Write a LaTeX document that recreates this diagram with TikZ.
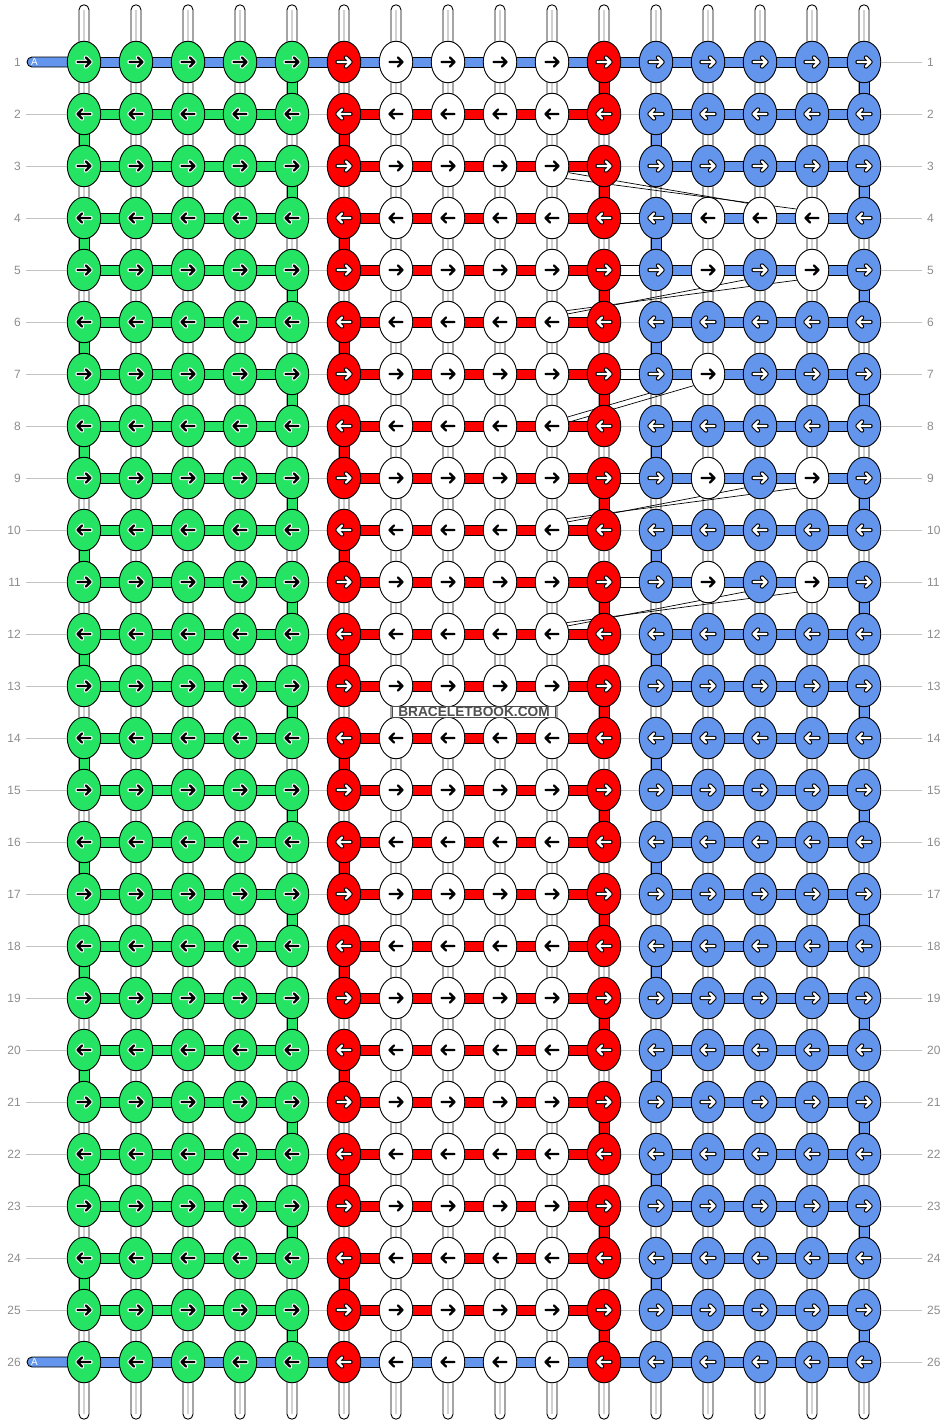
\documentclass[tikz,border=0pt]{standalone}
\usepackage{fontspec}
\setmainfont{Liberation Sans}
\usetikzlibrary{shapes, calc}

\definecolor{bbgreen}{RGB}{38,228,99}
\definecolor{bbred}{RGB}{255,0,0}
\definecolor{bbblue}{RGB}{100,149,237}
\definecolor{bbgrey}{RGB}{140,140,140}
\definecolor{bbline}{RGB}{195,195,195}
\definecolor{bbmark}{RGB}{80,80,80}

\pgfdeclarelayer{background}
\pgfsetlayers{background,main}

% colour of knot #1-#2 (row-column), and of its arrow
\makeatletter
\newcommand\knotcolour[2]{%
  \def\kfill{bbblue}\def\kin{white}\def\kout{black}%
  \ifnum#2<12 \def\kfill{white}\def\kin{black}\def\kout{white}\fi
  \ifnum#2=11 \def\kfill{bbred}\def\kin{white}\def\kout{black}\fi
  \ifnum#2=6 \def\kfill{bbred}\def\kin{white}\def\kout{black}\fi
  \ifnum#2<6 \def\kfill{bbgreen}\def\kin{black}\def\kout{white}\fi
  \edef\kkey{,#1-#2,}%
  \expandafter\in@\expandafter{\kkey}{,4-13,4-14,4-15,5-13,5-15,7-13,9-13,9-15,11-13,11-15,}%
  \ifin@\def\kfill{white}\def\kin{black}\def\kout{white}\fi}
\makeatother

\begin{document}
\begin{tikzpicture}[x=1pt, y=-1pt,
    knot/.style={ellipse, draw, line width=0.9pt, minimum width=33.5pt, minimum height=41.5pt, inner sep=0pt},
    warp/.style={draw, fill=white, line width=0.9pt, rounded corners=5pt},
    bar/.style={draw, line width=0.9pt},
    thread/.style={gray!35, line width=1.2pt},
    guide/.style={bbline, line width=0.8pt},
    hidden/.style={black, line width=0.7pt},
    arrowout/.style={line width=4.4pt, line cap=round, line join=round},
    arrowin/.style={line width=2.4pt, line cap=round, line join=round},
    rowlabel/.style={bbgrey, font=\fontsize{12}{12}\selectfont, inner sep=0pt}]

    \useasboundingbox (0,0) rectangle (948,1424);

    % Knots, arrows right on odd rows and left on even rows
    \foreach \r in {1,...,26}
    \foreach \c in {1,...,16} {
        \knotcolour{\r}{\c}
        \ifodd\r\relax \def\dir{1}\else \def\dir{-1}\fi
        \node[knot, fill=\kfill] (k-\r-\c) at ({84+52*(\c-1)}, {62+52*(\r-1)}) {};
        \draw[arrowout, color=\kout, shift={(k-\r-\c)}, xscale=\dir]
            (-6.5,0) -- (6.5,0) (2,-4.5) -- (6.5,0) -- (2,4.5);
        \draw[arrowin, color=\kin, shift={(k-\r-\c)}, xscale=\dir]
            (-6.5,0) -- (6.5,0) (2,-4.5) -- (6.5,0) -- (2,4.5);
    }

    \begin{pgfonlayer}{background}
        % Vertical strings
        \foreach \c in {1,...,16} {
            \draw[warp] ($(k-1-\c.north)+(-5,-36)$) rectangle ($(k-26-\c.south)+(5,36)$);
            \draw[thread] ($(k-1-\c.north)+(0,-31)$) -- ($(k-26-\c.south)+(0,31)$);
        }

        % Turns of the weft at the edges of each colour
        \foreach \r in {1,3,...,25} {
            \pgfmathtruncatemacro\s{\r+1}
            \draw[bar, fill=bbgreen] ($(k-\r-5.south)+(-5,-3)$) rectangle ($(k-\s-5.north)+(5,3)$);
            \draw[bar, fill=bbred] ($(k-\r-11.south)+(-5,-3)$) rectangle ($(k-\s-11.north)+(5,3)$);
            \draw[bar, fill=bbblue] ($(k-\r-16.south)+(-5,-3)$) rectangle ($(k-\s-16.north)+(5,3)$);
        }
        \foreach \r in {2,4,...,24} {
            \pgfmathtruncatemacro\s{\r+1}
            \draw[bar, fill=bbgreen] ($(k-\r-1.south)+(-5,-3)$) rectangle ($(k-\s-1.north)+(5,3)$);
            \draw[bar, fill=bbred] ($(k-\r-6.south)+(-5,-3)$) rectangle ($(k-\s-6.north)+(5,3)$);
            \draw[bar, fill=bbblue] ($(k-\r-12.south)+(-5,-3)$) rectangle ($(k-\s-12.north)+(5,3)$);
        }

        % String A on the first and last row
        \foreach \r in {1,26} {
            \draw[bar, fill=bbblue, rounded corners=5pt] ($(k-\r-1)+(-57,-5)$) rectangle ($(k-\r-1)+(0,5)$);
            \draw[bar, fill=bbblue] ($(k-\r-1)+(0,-5)$) rectangle ($(k-\r-16)+(0,5)$);
        }

        % Weft of the other rows
        \foreach \r in {2,...,25} {
            \draw[bar, fill=bbgreen] ($(k-\r-1)+(0,-5)$) rectangle ($(k-\r-5)+(0,5)$);
            \draw[bar, fill=bbred] ($(k-\r-6)+(0,-5)$) rectangle ($(k-\r-11)+(0,5)$);
            \draw[bar, fill=bbblue] ($(k-\r-12)+(0,-5)$) rectangle ($(k-\r-16)+(0,5)$);
            \draw[guide] (k-\r-5) -- (k-\r-6);
            \draw[guide] (k-\r-11) -- (k-\r-12);
        }
        \foreach \r in {4,5,7,9,11}
            \draw[bar, fill=white] ($(k-\r-11)+(0,-5)$) rectangle ($(k-\r-12)+(0,5)$);

        % Threads carried behind the knots
        \draw[hidden] (k-3-10.-22) -- (k-4-14.130);
        \draw[hidden] (k-3-10.-42) -- (k-4-15.150);
        \foreach \r/\s in {6/5, 10/9, 12/11} {
            \draw[hidden] (k-\r-10.27) -- (k-\s-14.213);
            \draw[hidden] (k-\r-10.38) -- (k-\s-15.214);
        }
        \draw[hidden] (k-8-10.30) -- (k-7-12.250);
        \draw[hidden] (k-8-10.13) -- (k-7-13.219);
    \end{pgfonlayer}

    % Label of string A
    \foreach \r in {1,26}
        \node[white, inner sep=0pt, font=\fontsize{10}{10}\selectfont] (a-\r) at ($(k-\r-1)+(-49.5,0)$) {A};

    % Row numbers
    \foreach \r in {1,...,26} {
        \node[rowlabel, anchor=east] (l-\r) at ($(k-\r-1)+(-63,0)$) {\r};
        \node[rowlabel, anchor=west] (rl-\r) at ($(k-\r-16)+(63,0)$) {\r};
        \draw[guide] (k-\r-16.east) -- ([xshift=-5pt]rl-\r.west);
    }
    \foreach \r in {2,...,25}
        \draw[guide] ([xshift=5pt]l-\r.east) -- (k-\r-1.west);

    % Watermark
    \node[draw=black!70, fill=white, line width=0.6pt, inner xsep=6pt, inner ysep=0.5pt,
        text height=9.8pt, text depth=0pt, text=bbmark,
        font=\bfseries\fontsize{13.7}{13.7}\selectfont] (mark)
        at ($(k-13-8)!0.5!(k-14-9)$) {BRACELETBOOK.COM};

\end{tikzpicture}
\end{document}
